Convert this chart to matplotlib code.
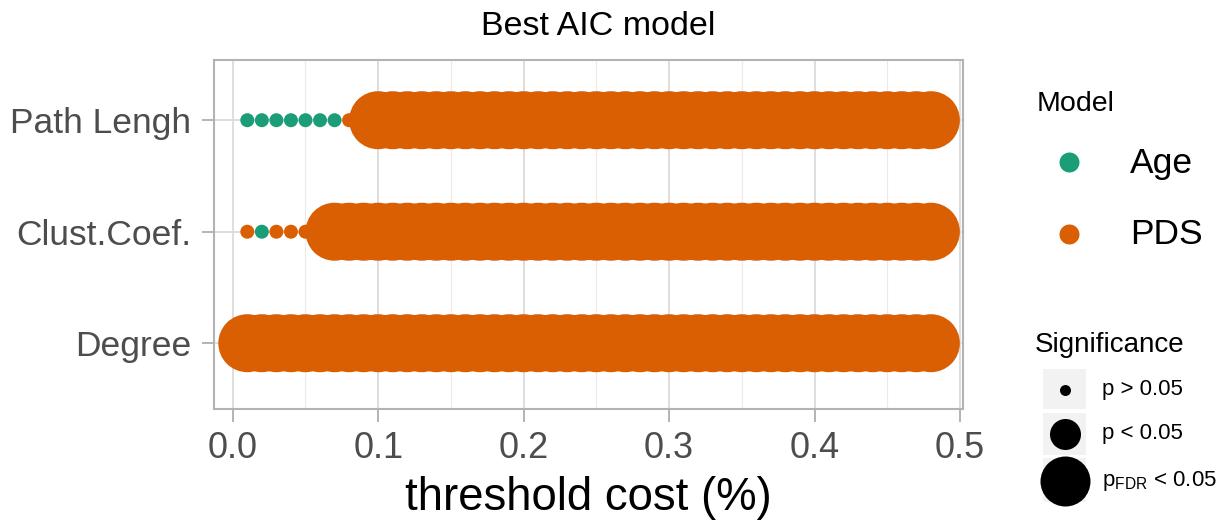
import matplotlib
matplotlib.use("Agg")
import matplotlib.pyplot as plt
from matplotlib.patches import Rectangle

plt.rcParams["font.family"] = ["Liberation Sans", "DejaVu Sans"]
plt.rcParams["mathtext.fontset"] = "custom"
plt.rcParams["mathtext.rm"] = "Liberation Sans"

# Network thresholds (cost)
thresholds = [0.01, 0.02, 0.03, 0.04, 0.05, 0.06, 0.07, 0.08, 0.09, 0.10,
              0.11, 0.12, 0.13, 0.14, 0.15, 0.16, 0.17, 0.18, 0.19, 0.20,
              0.21, 0.22, 0.23, 0.24, 0.25, 0.26, 0.27, 0.28, 0.29, 0.30,
              0.31, 0.32, 0.33, 0.34, 0.35, 0.36, 0.37, 0.38, 0.39, 0.40,
              0.41, 0.42, 0.43, 0.44, 0.45, 0.46, 0.47, 0.48]

measures = ["Degree", "Clust.Coef.", "Path Lengh"]

# Best model per threshold: A = Age, P = PDS
best_model = {
    "Degree":      "PPPPPPPPPPPPPPPPPPPPPPPPPPPPPPPPPPPPPPPPPPPPPPPP",
    "Clust.Coef.": "PAPPPPPPPPPPPPPPPPPPPPPPPPPPPPPPPPPPPPPPPPPPPPPP",
    "Path Lengh":  "AAAAAAAPPPPPPPPPPPPPPPPPPPPPPPPPPPPPPPPPPPPPPPPP",
}
# Significance per threshold: 0 = p > 0.05, 1 = p < 0.05, 2 = pFDR < 0.05
significance = {
    "Degree":      "222222222222222222222222222222222222222222222222",
    "Clust.Coef.": "000001222222222222222222222222222222222222222222",
    "Path Lengh":  "000000001222222222222222222222222222222222222222",
}

model_names = {"A": "Age", "P": "PDS"}
model_colors = {"A": "#1b9e77", "P": "#d95f02"}
sig_labels = ["p > 0.05", "p < 0.05", r"p$_\mathregular{FDR}$ < 0.05"]

PX = 0.72  # points per pixel at 100 dpi
sig_sizes = [(14 * PX) ** 2, (30 * PX) ** 2, (58 * PX) ** 2]

W, H = 1226, 523
fig = plt.figure(figsize=(W / 100, H / 100), dpi=100)
ax = fig.add_axes([214 / W, 1 - 409 / H, (963 - 214) / W, (409 - 60) / H])

for yi, m in enumerate(measures, start=1):
    xs = thresholds
    cols = [model_colors[c] for c in best_model[m]]
    sizes = [sig_sizes[int(s)] for s in significance[m]]
    ax.scatter(xs, [yi] * len(xs), s=sizes, c=cols, linewidths=0, zorder=3)

ax.set_xlim(-0.0129, 0.5021)
ax.set_ylim(0.41, 3.54)
ax.set_xticks([0.0, 0.1, 0.2, 0.3, 0.4, 0.5])
ax.set_xticklabels(["0.0", "0.1", "0.2", "0.3", "0.4", "0.5"])
ax.set_xticks([0.05, 0.15, 0.25, 0.35, 0.45], minor=True)
ax.set_yticks([1, 2, 3])
ax.set_yticklabels(measures)

ax.grid(True, which="major", color="#dedede", linewidth=1.4, zorder=0)
ax.grid(True, which="minor", axis="x", color="#ebebeb", linewidth=0.8, zorder=0)
ax.set_axisbelow(True)
for sp in ax.spines.values():
    sp.set_color("#b3b3b3")
    sp.set_linewidth(1.5)
ax.tick_params(axis="both", which="major", length=9, width=1.4, color="#b3b3b3",
               labelcolor="#4d4d4d")
ax.tick_params(axis="x", pad=7, labelsize=26)
ax.tick_params(axis="y", pad=7.5, labelsize=25.5)
ax.tick_params(which="minor", length=0)

fig.text(598 / W, 1 - 35 / H, "Best AIC model", fontsize=24.5, ha="center",
         va="baseline", color="black")
fig.text(588 / W, 1 - 510 / H, "threshold cost (%)", fontsize=32.8, ha="center",
         va="baseline", color="black")

# Legends drawn in a pixel-space overlay
lg = fig.add_axes([0, 0, 1, 1])
lg.set_xlim(0, W)
lg.set_ylim(H, 0)
lg.axis("off")

lg.text(1037, 104, "Model", fontsize=20.5, va="center", ha="left")
for key, yk in zip(["A", "P"], [162, 234]):
    lg.scatter([1069], [yk], s=(20 * PX) ** 2, c=model_colors[key], linewidths=0)
    lg.text(1130, yk + 1, model_names[key], fontsize=25.5, va="center", ha="left")

lg.text(1035, 345, "Significance", fontsize=20, va="center", ha="left")
key_boxes = [(369, 40), (413, 42), (458, 44)]
key_centers = [390, 434, 481]
key_diams = [11, 31, 50]
for (top, hgt), yc, d, lab in zip(key_boxes, key_centers, key_diams, sig_labels):
    lg.add_patch(Rectangle((1043, top), 43, hgt, facecolor="#f2f2f2",
                           edgecolor="none", zorder=1))
    lg.scatter([1065], [yc], s=(d * PX) ** 2, c="black", linewidths=0, zorder=2)
    lg.text(1102, yc, lab, fontsize=16, va="center", ha="left")

fig.savefig("out.png", dpi=100)
